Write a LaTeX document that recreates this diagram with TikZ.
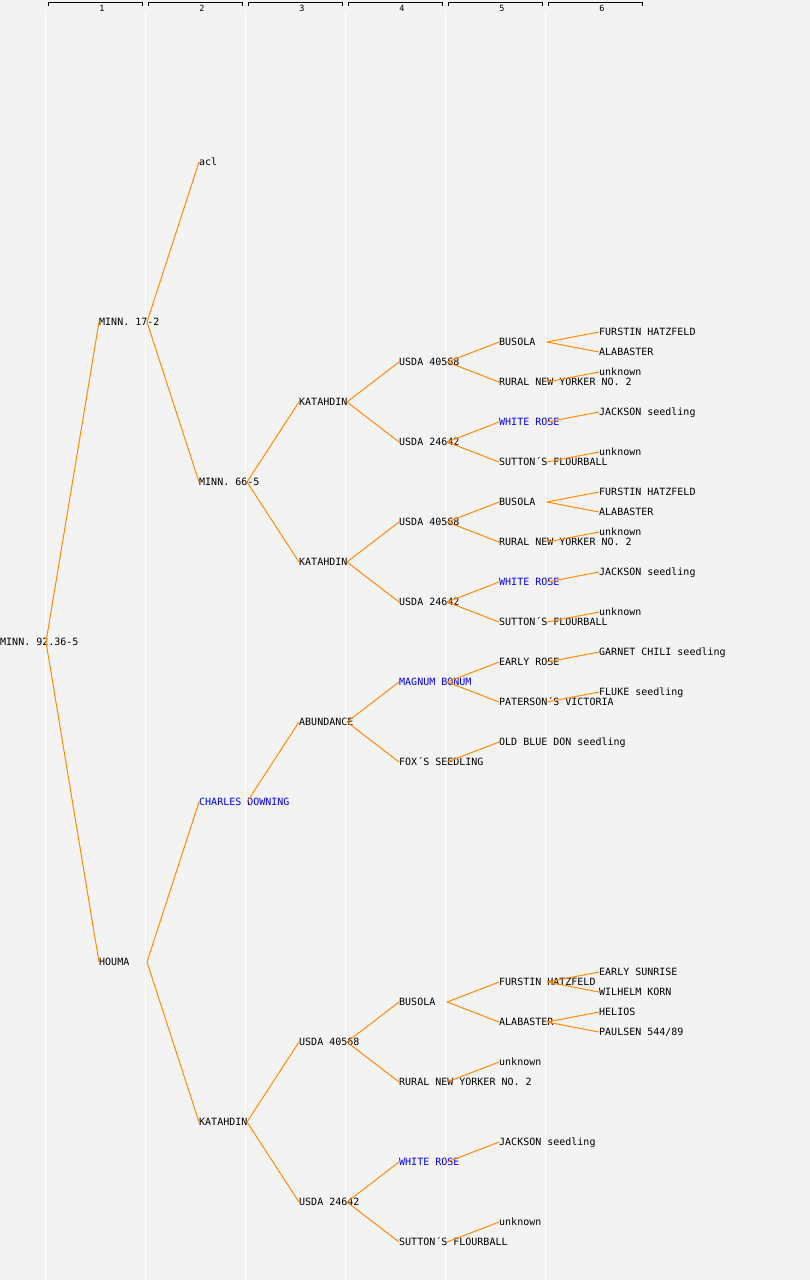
\documentclass[tikz,border=0pt]{standalone}
\usepackage{fontspec}
\newfontfamily\pedfont{DejaVu Sans Mono}
\definecolor{pedbg}{RGB}{243,243,243}
\definecolor{pedline}{RGB}{255,140,0}
\definecolor{pedblue}{RGB}{0,0,255}

\begin{document}
\begin{tikzpicture}[x=1pt,y=-1pt]
        \tikzstyle{plant}=[anchor=west,inner sep=0pt,text height=7pt,text depth=0pt,
                           font=\pedfont\fontsize{10}{10}\selectfont]
        \tikzstyle{named}=[plant,text=pedblue]
        \tikzstyle{link}=[draw=pedline,line width=1pt]
        \tikzstyle{gen}=[inner sep=0pt,font=\pedfont\fontsize{8.5}{8.5}\selectfont]

        % background, generation columns
        \useasboundingbox[fill=pedbg] (0,0) rectangle (810,1280);
        \foreach \c in {1,...,6} {
          \draw[white,line width=1pt] (100*\c-55,12) -- (100*\c-55,1280);
          \draw[black,line width=0.8pt] (100*\c-52,5.5) -- (100*\c-52,2)
                -- (100*\c+42,2) -- (100*\c+42,5.5);
          \node[gen] (G\c) at (100*\c+2,8) {\c};
        }

        \node[plant]  (N0)  at (0,642)    {MINN. 92.36-5};
        \node[plant]  (N1a) at (99,322)   {MINN. 17-2};
        \node[plant]  (N1b) at (99,962)   {HOUMA};
        \node[plant]  (N2a) at (199,162)  {acl};
        \node[plant]  (N2b) at (199,482)  {MINN. 66-5};
        \node[named]  (N2c) at (199,802)  {CHARLES DOWNING};
        \node[plant]  (N2d) at (199,1122) {KATAHDIN};
        \node[plant]  (N3a) at (299,402)  {KATAHDIN};
        \node[plant]  (N3b) at (299,562)  {KATAHDIN};
        \node[plant]  (N3c) at (299,722)  {ABUNDANCE};
        \node[plant]  (N3d) at (299,1042) {USDA 40568};
        \node[plant]  (N3e) at (299,1202) {USDA 24642};
        \node[plant]  (N4a) at (399,362)  {USDA 40568};
        \node[plant]  (N4b) at (399,442)  {USDA 24642};
        \node[plant]  (N4c) at (399,522)  {USDA 40568};
        \node[plant]  (N4d) at (399,602)  {USDA 24642};
        \node[named]  (N4e) at (399,682)  {MAGNUM BONUM};
        \node[plant]  (N4f) at (399,762)  {FOX´S SEEDLING};
        \node[plant]  (N4g) at (399,1002) {BUSOLA};
        \node[plant]  (N4h) at (399,1082) {RURAL NEW YORKER NO. 2};
        \node[named]  (N4i) at (399,1162) {WHITE ROSE};
        \node[plant]  (N4j) at (399,1242) {SUTTON´S FLOURBALL};
        \node[plant]  (N5a) at (499,342)  {BUSOLA};
        \node[plant]  (N5b) at (499,382)  {RURAL NEW YORKER NO. 2};
        \node[named]  (N5c) at (499,422)  {WHITE ROSE};
        \node[plant]  (N5d) at (499,462)  {SUTTON´S FLOURBALL};
        \node[plant]  (N5e) at (499,502)  {BUSOLA};
        \node[plant]  (N5f) at (499,542)  {RURAL NEW YORKER NO. 2};
        \node[named]  (N5g) at (499,582)  {WHITE ROSE};
        \node[plant]  (N5h) at (499,622)  {SUTTON´S FLOURBALL};
        \node[plant]  (N5i) at (499,662)  {EARLY ROSE};
        \node[plant]  (N5j) at (499,702)  {PATERSON´S VICTORIA};
        \node[plant]  (N5k) at (499,742)  {OLD BLUE DON seedling};
        \node[plant]  (N5l) at (499,982)  {FURSTIN HATZFELD};
        \node[plant]  (N5m) at (499,1022) {ALABASTER};
        \node[plant]  (N5n) at (499,1062) {unknown};
        \node[plant]  (N5o) at (499,1142) {JACKSON seedling};
        \node[plant]  (N5p) at (499,1222) {unknown};
        \node[plant]  (N6a) at (599,332)  {FURSTIN HATZFELD};
        \node[plant]  (N6b) at (599,352)  {ALABASTER};
        \node[plant]  (N6c) at (599,372)  {unknown};
        \node[plant]  (N6d) at (599,412)  {JACKSON seedling};
        \node[plant]  (N6e) at (599,452)  {unknown};
        \node[plant]  (N6f) at (599,492)  {FURSTIN HATZFELD};
        \node[plant]  (N6g) at (599,512)  {ALABASTER};
        \node[plant]  (N6h) at (599,532)  {unknown};
        \node[plant]  (N6i) at (599,572)  {JACKSON seedling};
        \node[plant]  (N6j) at (599,612)  {unknown};
        \node[plant]  (N6k) at (599,652)  {GARNET CHILI seedling};
        \node[plant]  (N6l) at (599,692)  {FLUKE seedling};
        \node[plant]  (N6m) at (599,972)  {EARLY SUNRISE};
        \node[plant]  (N6n) at (599,992)  {WILHELM KORN};
        \node[plant]  (N6o) at (599,1012) {HELIOS};
        \node[plant]  (N6p) at (599,1032) {PAULSEN 544/89};

        \path[link]
                  ([xshift=46]N0.west)  edge (N1a.west) edge (N1b.west)
                  ([xshift=48]N1a.west) edge (N2a.west) edge (N2b.west)
                  ([xshift=48]N1b.west) edge (N2c.west) edge (N2d.west)
                  ([xshift=48]N2b.west) edge (N3a.west) edge (N3b.west)
                  ([xshift=48]N2c.west) edge (N3c.west)
                  ([xshift=48]N2d.west) edge (N3d.west) edge (N3e.west)
                  ([xshift=48]N3a.west) edge (N4a.west) edge (N4b.west)
                  ([xshift=48]N3b.west) edge (N4c.west) edge (N4d.west)
                  ([xshift=48]N3c.west) edge (N4e.west) edge (N4f.west)
                  ([xshift=48]N3d.west) edge (N4g.west) edge (N4h.west)
                  ([xshift=48]N3e.west) edge (N4i.west) edge (N4j.west)
                  ([xshift=48]N4a.west) edge (N5a.west) edge (N5b.west)
                  ([xshift=48]N4b.west) edge (N5c.west) edge (N5d.west)
                  ([xshift=48]N4c.west) edge (N5e.west) edge (N5f.west)
                  ([xshift=48]N4d.west) edge (N5g.west) edge (N5h.west)
                  ([xshift=48]N4e.west) edge (N5i.west) edge (N5j.west)
                  ([xshift=48]N4f.west) edge (N5k.west)
                  ([xshift=48]N4g.west) edge (N5l.west) edge (N5m.west)
                  ([xshift=48]N4h.west) edge (N5n.west)
                  ([xshift=48]N4i.west) edge (N5o.west)
                  ([xshift=48]N4j.west) edge (N5p.west)
                  ([xshift=48]N5a.west) edge (N6a.west) edge (N6b.west)
                  ([xshift=48]N5b.west) edge (N6c.west)
                  ([xshift=48]N5c.west) edge (N6d.west)
                  ([xshift=48]N5d.west) edge (N6e.west)
                  ([xshift=48]N5e.west) edge (N6f.west) edge (N6g.west)
                  ([xshift=48]N5f.west) edge (N6h.west)
                  ([xshift=48]N5g.west) edge (N6i.west)
                  ([xshift=48]N5h.west) edge (N6j.west)
                  ([xshift=48]N5i.west) edge (N6k.west)
                  ([xshift=48]N5j.west) edge (N6l.west)
                  ([xshift=48]N5l.west) edge (N6m.west) edge (N6n.west)
                  ([xshift=48]N5m.west) edge (N6o.west) edge (N6p.west);
\end{tikzpicture}
\end{document}
